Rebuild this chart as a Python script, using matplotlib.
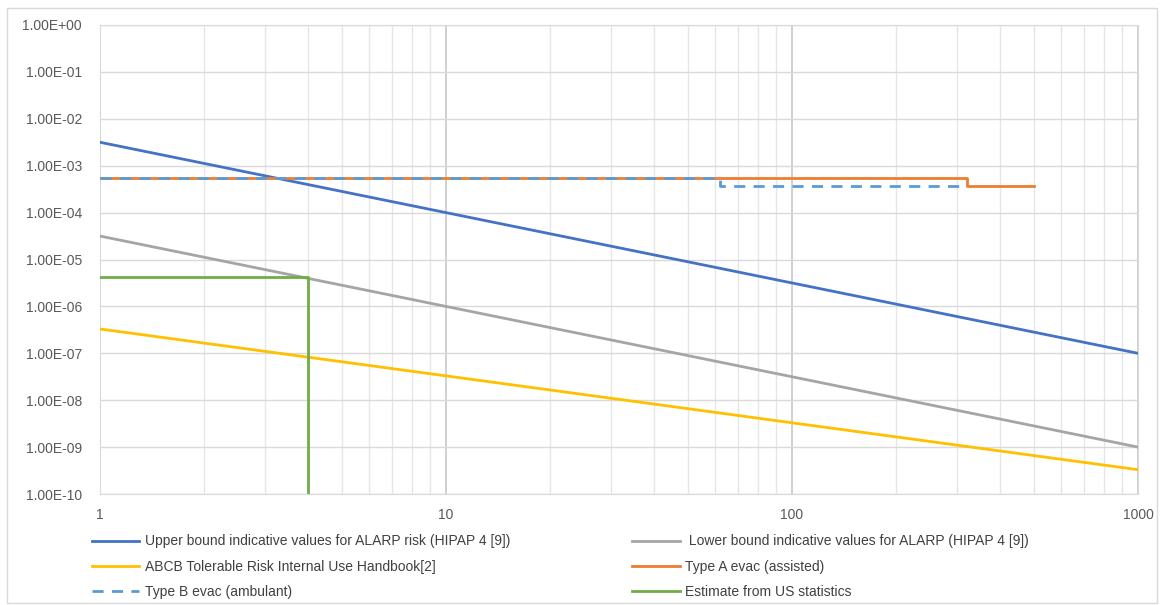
import matplotlib.pyplot as plt
from matplotlib.patches import Rectangle
from matplotlib.ticker import FixedLocator, FixedFormatter, LogLocator, NullFormatter

plt.rcParams['font.family'] = ['Liberation Sans', 'DejaVu Sans']

# series (x = number of fatalities, y = frequency)
upper_x = [1, 1000]
upper_y = [3.16e-3, 1e-7]
lower_x = [1, 1000]
lower_y = [3.16e-5, 1e-9]
abcb_x = [1, 1000]
abcb_y = [3.3e-7, 3.3e-10]
type_a_x = [1, 320, 320, 500]
type_a_y = [5.4e-4, 5.4e-4, 3.7e-4, 3.7e-4]
type_b_x = [1, 62, 62, 320]
type_b_y = [5.4e-4, 5.4e-4, 3.7e-4, 3.7e-4]
us_x = [1, 4, 4]
us_y = [4.3e-6, 4.3e-6, 1e-10]

labels = [
    "Upper bound indicative values for ALARP risk (HIPAP 4 [9])",
    " Lower bound indicative values for ALARP (HIPAP 4 [9])",
    "ABCB Tolerable Risk Internal Use Handbook[2]",
    "Type A evac (assisted)",
    "Type B evac (ambulant)",
    "Estimate from US statistics",
]

y_ticks = [10.0 ** -k for k in range(0, 11)]
y_tick_labels = ["1.00E+00"] + ["1.00E-%02d" % k for k in range(1, 11)]
x_ticks = [1, 10, 100, 1000]
x_tick_labels = ["1", "10", "100", "1000"]

fig = plt.figure(figsize=(11.62, 6.05), dpi=100)
fig.patches.append(Rectangle((7 / 1162, 2 / 605), 1150 / 1162, 595 / 605,
                             transform=fig.transFigure, fill=False,
                             edgecolor="#d9d9d9", linewidth=1))
ax = fig.add_axes([100 / 1162, 1 - 494 / 605, 1038 / 1162, 469 / 605])

lw = 2
h_upper, = ax.plot(upper_x, upper_y, color="#4472C4", lw=lw, zorder=3)
h_lower, = ax.plot(lower_x, lower_y, color="#A5A5A5", lw=lw, zorder=3)
h_abcb, = ax.plot(abcb_x, abcb_y, color="#FFC000", lw=lw, zorder=3)
h_a, = ax.plot(type_a_x, type_a_y, color="#ED7D31", lw=lw, zorder=3)
h_b, = ax.plot(type_b_x, type_b_y, color="#5B9BD5", lw=lw, ls=(0, (4, 3)), zorder=4)
h_us, = ax.plot(us_x, us_y, color="#70AD47", lw=lw, zorder=5)

ax.set_xscale("log")
ax.set_yscale("log")
ax.set_xlim(1, 1000)
ax.set_ylim(1e-10, 1)

ax.xaxis.set_major_locator(FixedLocator(x_ticks))
ax.xaxis.set_major_formatter(FixedFormatter(x_tick_labels))
ax.xaxis.set_minor_locator(LogLocator(base=10, subs=range(2, 10)))
ax.xaxis.set_minor_formatter(NullFormatter())
ax.yaxis.set_major_locator(FixedLocator(y_ticks))
ax.yaxis.set_major_formatter(FixedFormatter(y_tick_labels))
ax.yaxis.set_minor_locator(FixedLocator([]))

ax.grid(True, which="major", axis="x", color="#c8c8c8", lw=1.2)
ax.grid(True, which="minor", axis="x", color="#e6e6e6", lw=1)
ax.grid(True, which="major", axis="y", color="#d9d9d9", lw=1)
ax.tick_params(which="both", length=0, colors="#595959", labelsize=10)
ax.tick_params(axis="y", pad=13)
ax.tick_params(axis="x", pad=10)
for s in ax.spines.values():
    s.set_color("#d9d9d9")
ax.set_axisbelow(True)

handles = [h_upper, h_abcb, h_b, h_lower, h_a, h_us]
leg_labels = [labels[0], labels[2], labels[4], labels[1], labels[3], labels[5]]
fig.legend(handles, leg_labels, ncol=2, loc="upper left",
           bbox_to_anchor=(79 / 1162, 1 - 522 / 605), frameon=False,
           fontsize=10, labelcolor="#404040", handlelength=3.4,
           handletextpad=0.43, columnspacing=8.8, labelspacing=0.8)

fig.savefig("out.png", dpi=100)
